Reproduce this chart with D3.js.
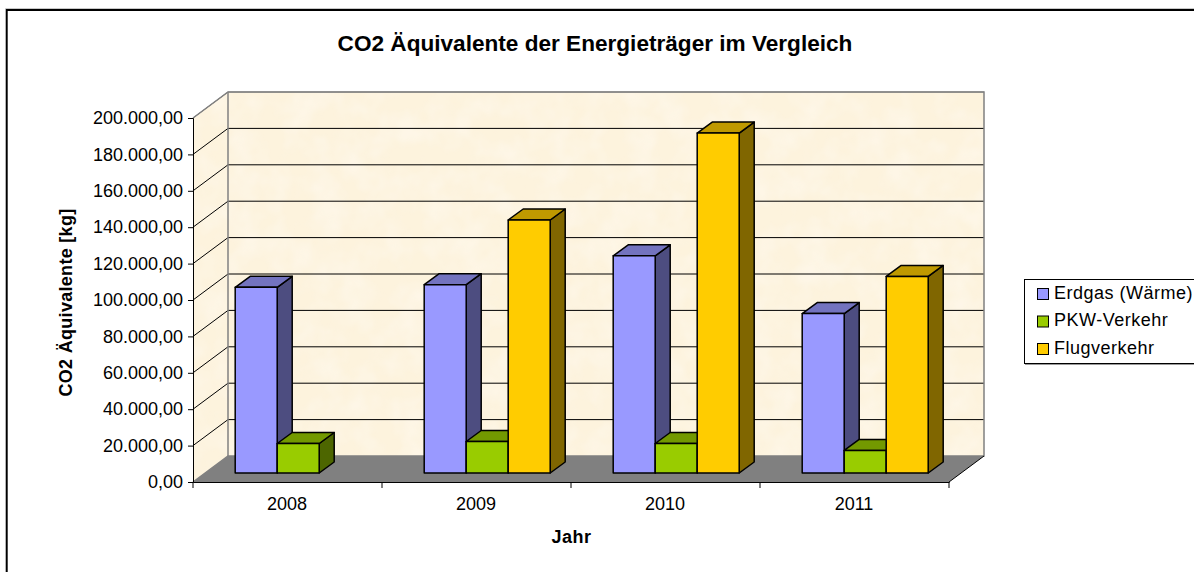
<!DOCTYPE html>
<html lang="de">
<head>
<meta charset="UTF-8">
<title>CO2 Äquivalente</title>
<style>
    body { margin: 0; background: #fff; }
    svg { display: block; font-family: "Liberation Sans", Arial, sans-serif; }
</style>
</head>
<body>
<svg width="1194" height="572"></svg>
<script src="https://d3js.org/d3.v7.min.js"></script>
<script>
const years = ["2008", "2009", "2010", "2011"];
const seriesNames = ["Erdgas (Wärme)", "PKW-Verkehr", "Flugverkehr"];
const erdgas = [102000, 103500, 119300, 87600];
const pkw = [16200, 17300, 16200, 12400];
const flug = [null, 139000, 186800, 108000];
const yTicks = [0, 20000, 40000, 60000, 80000, 100000, 120000, 140000, 160000, 180000, 200000];

const colors = [
    { front: "#9999ff", top: "#7373bf", side: "#4d4d80" },
    { front: "#99cc00", top: "#739900", side: "#4d6600" },
    { front: "#ffcc00", top: "#bf9900", side: "#806600" }
];
const allSeries = [erdgas, pkw, flug];

const svg = d3.select("svg");

// wall texture
const defs = svg.append("defs");
const filter = defs.append("filter").attr("id", "paper")
    .attr("x", 0).attr("y", 0).attr("width", 1).attr("height", 1);
filter.append("feTurbulence").attr("type", "fractalNoise").attr("baseFrequency", 0.035)
    .attr("numOctaves", 3).attr("seed", 4);
filter.append("feColorMatrix").attr("type", "matrix")
    .attr("values", "0 0 0 0 0.99  0 0 0 0 0.93  0 0 0 0 0.82  1.6 0 0 0 -0.55");
filter.append("feComposite").attr("in2", "SourceGraphic").attr("operator", "in").attr("result", "tex");
filter.append("feMerge").call(m => {
    m.append("feMergeNode").attr("in", "SourceGraphic");
    m.append("feMergeNode").attr("in", "tex");
});

// chart frame, only top and left edges are inside the picture
svg.append("path").attr("d", "M5.5,572V8.5H1194").attr("fill", "none").attr("stroke", "#c8c8c8");
svg.append("path").attr("d", "M6.8,572V10H1194").attr("fill", "none").attr("stroke", "#000").attr("stroke-width", 1.8);

// 3D geometry
const left = 193, right = 949, y0 = 482, y1 = 118;
const depthX = 35, depthY = 26;
const x = d3.scaleBand().domain(years).range([left, right]);
const y = d3.scaleLinear().domain([0, 200000]).range([y0, y1]);
const line = d3.line();

// back wall + side wall
svg.append("path")
    .attr("d", line([[left, y1], [left + depthX, y1 - depthY], [left + depthX, y0 - depthY], [left, y0]]) + "Z")
    .attr("fill", "#fdf3dd").attr("filter", "url(#paper)");
svg.append("rect")
    .attr("x", left + depthX).attr("y", y1 - depthY)
    .attr("width", right - left).attr("height", y0 - y1)
    .attr("fill", "#fdf3dd").attr("filter", "url(#paper)");

// floor
svg.append("path")
    .attr("d", line([[left, y0], [left + depthX, y0 - depthY], [right + depthX, y0 - depthY], [right, y0]]) + "Z")
    .attr("fill", "#808080");

// gridlines on the walls
svg.append("g").selectAll("path").data(yTicks.slice(1)).join("path")
    .attr("d", d => line([[left, y(d)], [left + depthX, y(d) - depthY], [right + depthX, y(d) - depthY]]))
    .attr("fill", "none")
    .attr("stroke", d => d === 200000 ? "#808080" : "#000")
    .attr("stroke-width", 1);

// wall outline
svg.append("path")
    .attr("d", line([[left, y1], [left + depthX, y1 - depthY], [right + depthX, y1 - depthY], [right + depthX, y0 - depthY], [left + depthX, y0 - depthY], [left, y0]]))
    .attr("fill", "none").attr("stroke", "#808080").attr("stroke-width", 1.5);
svg.append("line")
    .attr("x1", left + depthX).attr("x2", left + depthX)
    .attr("y1", y1 - depthY).attr("y2", y0 - depthY)
    .attr("stroke", "#808080").attr("stroke-width", 1.5);

// bars, drawn back to front per series
const barW = x.bandwidth() / 4.5;
const barDX = 15, barDY = 11;
const offX = 10.7, offY = 9;
const barData = [];
years.forEach((yr, i) => {
    allSeries.forEach((s, k) => {
        if (s[i] != null) barData.push({ yr, k, v: s[i] });
    });
});
const bars = svg.append("g").attr("stroke", "#000").attr("stroke-width", 1.5).attr("stroke-linejoin", "round");
bars.selectAll("g").data(barData).join("g").each(function(d) {
    const g = d3.select(this);
    const xa = x(d.yr) + barW * (0.75 + d.k) + offX;
    const xb = xa + barW;
    const yb = y(0) - offY;
    const yt = y(d.v) - offY;
    const c = colors[d.k];
    g.append("path").attr("fill", c.side)
        .attr("d", line([[xb, yb], [xb + barDX, yb - barDY], [xb + barDX, yt - barDY], [xb, yt]]) + "Z");
    g.append("path").attr("fill", c.top)
        .attr("d", line([[xa, yt], [xa + barDX, yt - barDY], [xb + barDX, yt - barDY], [xb, yt]]) + "Z");
    g.append("rect").attr("fill", c.front)
        .attr("x", xa).attr("y", yt).attr("width", barW).attr("height", yb - yt);
});

// axes
const fmt = v => d3.format(",.2f")(v).replace(/,/g, "#").replace(".", ",").replace(/#/g, ".");
const yAxis = d3.axisLeft(y).tickValues(yTicks).tickFormat(fmt).tickSize(5).tickPadding(5);
const gy = svg.append("g").attr("transform", `translate(${left},0)`).call(yAxis);
gy.selectAll("text").attr("font-size", 18).attr("font-family", "Liberation Sans").attr("fill", "#000");
gy.selectAll("line").attr("stroke", "#000");
gy.select(".domain").attr("stroke", "#000");

const xAxis = d3.axisBottom(x).tickValues([]).tickSizeOuter(0);
const gx = svg.append("g").attr("transform", `translate(0,${y0})`).call(xAxis);
gx.select(".domain").attr("stroke", "#000");
const edges = d3.range(years.length + 1).map(i => left + i * x.step());
gx.selectAll("line.edge").data(edges).join("line").attr("class", "edge")
    .attr("x1", d => d).attr("x2", d => d).attr("y1", 0).attr("y2", 6).attr("stroke", "#000");
gx.append("path").attr("d", line([[right, 0], [right + depthX, -depthY]])).attr("stroke", "#000").attr("fill", "none");
svg.append("g").selectAll("text").data(years).join("text")
    .attr("x", d => x(d) + x.bandwidth() / 2 - 0.5).attr("y", 510)
    .attr("text-anchor", "middle").attr("font-size", 18).text(d => d);

// titles
svg.append("text").attr("x", 595).attr("y", 51).attr("text-anchor", "middle")
    .attr("font-size", 22.6).attr("font-weight", "bold").text("CO2 Äquivalente der Energieträger im Vergleich");
svg.append("text").attr("x", 571.5).attr("y", 543).attr("text-anchor", "middle")
    .attr("font-size", 18).attr("letter-spacing", 0.5).attr("font-weight", "bold").text("Jahr");
svg.append("text").attr("transform", "translate(72,302.5) rotate(-90)").attr("text-anchor", "middle")
    .attr("font-size", 18).attr("letter-spacing", 0.3).attr("font-weight", "bold").text("CO2 Äquivalente [kg]");

// legend
svg.append("rect").attr("x", 1024.5).attr("y", 279.5).attr("width", 172).attr("height", 84)
    .attr("fill", "#fff").attr("stroke", "#000");
svg.append("line").attr("x1", 1025).attr("x2", 1194).attr("y1", 364.5).attr("y2", 364.5).attr("stroke", "#999");
const legend = svg.append("g").selectAll("g").data(seriesNames).join("g")
    .attr("transform", (d, i) => `translate(1037,${288 + i * 27.5})`);
legend.append("rect").attr("x", 0.5).attr("y", 0.5).attr("width", 11).attr("height", 11)
    .attr("fill", (d, i) => colors[i].front).attr("stroke", "#000");
legend.append("text").attr("x", 17).attr("y", 10.5).attr("font-size", 18).attr("letter-spacing", 0.5).text(d => d);
</script>
</body>
</html>
